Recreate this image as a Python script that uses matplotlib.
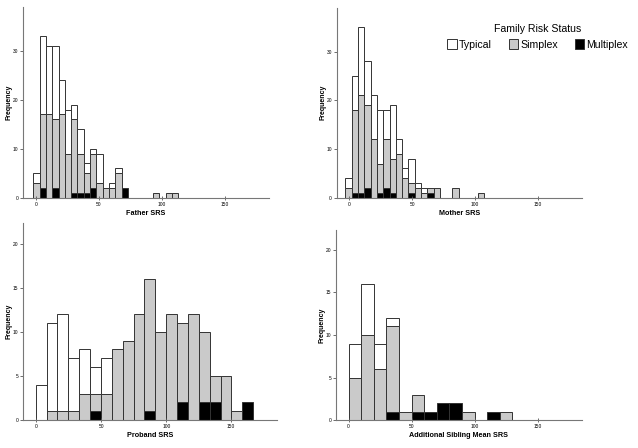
import numpy as np
import matplotlib.pyplot as plt
from matplotlib.patches import Patch

plt.rcParams['font.family'] = ['Liberation Sans', 'DejaVu Sans']

groups = ['Typical', 'Simplex', 'Multiplex']
group_colors = ['white', '#cacaca', 'black']

# Father SRS, bins of 5 starting at -2
father_start, father_width = -2, 5
father_typical = [2, 16, 14, 15, 7, 9, 3, 5, 2, 1, 6, 0, 1, 1, 0, 0, 0, 0, 0, 0, 0, 0, 0]
father_simplex = [3, 15, 17, 14, 17, 9, 15, 8, 4, 7, 3, 2, 2, 5, 0, 0, 0, 0, 0, 1, 0, 1, 1]
father_multiplex = [0, 2, 0, 2, 0, 0, 1, 1, 1, 2, 0, 0, 0, 0, 2, 0, 0, 0, 0, 0, 0, 0, 0]

# Mother SRS, bins of 5 starting at -3
mother_start, mother_width = -3, 5
mother_typical = [2, 7, 14, 9, 9, 11, 6, 11, 3, 2, 5, 1, 1, 0, 0, 0, 0, 0, 0, 0, 0, 0]
mother_simplex = [2, 17, 20, 17, 12, 6, 10, 7, 9, 4, 2, 2, 1, 1, 2, 0, 0, 2, 0, 0, 0, 1]
mother_multiplex = [0, 1, 1, 2, 0, 1, 2, 1, 0, 0, 1, 0, 0, 1, 0, 0, 0, 0, 0, 0, 0, 0]

# Proband SRS, 20 bins
proband_start, proband_width = -0.5, 8.37
proband_typical = [4, 10, 11, 6, 5, 3, 4, 0, 0, 0, 0, 0, 0, 0, 0, 0, 0, 0, 0, 0]
proband_simplex = [0, 1, 1, 1, 3, 2, 3, 8, 9, 12, 15, 10, 12, 9, 12, 8, 3, 5, 1, 0]
proband_multiplex = [0, 0, 0, 0, 0, 1, 0, 0, 0, 0, 1, 0, 0, 2, 0, 2, 2, 0, 0, 2]

# Additional sibling mean SRS, bins of 10
sibling_start, sibling_width = 0, 10
sibling_typical = [4, 6, 3, 1, 0, 0, 0, 0, 0, 0, 0, 0, 0]
sibling_simplex = [5, 10, 6, 10, 1, 2, 0, 0, 0, 1, 0, 0, 1]
sibling_multiplex = [0, 0, 0, 1, 0, 1, 1, 2, 2, 0, 0, 1, 0]

panels = [
    ('Father SRS', father_start, father_width, father_typical, father_simplex, father_multiplex,
     [0.0365, 0.5587, 0.3851, 0.4263], 39, [0, 10, 20, 30]),
    ('Mother SRS', mother_start, mother_width, mother_typical, mother_simplex, mother_multiplex,
     [0.5277, 0.5587, 0.3845, 0.4240], 39, [0, 10, 20, 30]),
    ('Proband SRS', proband_start, proband_width, proband_typical, proband_simplex, proband_multiplex,
     [0.0365, 0.0625, 0.3972, 0.4390], 22.3, [0, 5, 10, 15, 20]),
    ('Additional Sibling Mean SRS', sibling_start, sibling_width, sibling_typical, sibling_simplex,
     sibling_multiplex, [0.5266, 0.0618, 0.3851, 0.4248], 22.3, [0, 5, 10, 15, 20]),
]

fig = plt.figure(figsize=(6.38, 4.48), dpi=100)

for label, start, width, typ, simp, mult, pos, ytop, yticks in panels:
    ax = fig.add_axes(pos)
    typ = np.array(typ)
    simp = np.array(simp)
    mult = np.array(mult)
    left = start + width * np.arange(len(typ))
    segments = [(mult, np.zeros_like(mult), group_colors[2]),
                (simp, mult, group_colors[1]),
                (typ, mult + simp, group_colors[0])]
    for h, b, c in segments:
        m = h > 0
        ax.bar(left[m], h[m], bottom=b[m], width=width, align='edge',
               color=c, edgecolor='#333333', linewidth=0.7)
    ax.set_xlim(-10, 185)
    ax.set_ylim(0, ytop)
    ax.set_xticks([0, 50, 100, 150])
    ax.set_yticks(yticks)
    for s in ['top', 'right']:
        ax.spines[s].set_visible(False)
    for s in ['left', 'bottom']:
        ax.spines[s].set_color('#777777')
        ax.spines[s].set_linewidth(0.8)
    ax.tick_params(axis='x', direction='inout', length=3, width=0.6, color='#555555',
                   labelsize=3.5, pad=1.5)
    ax.tick_params(axis='y', direction='out', length=2.5, width=0.6, color='#555555',
                   labelsize=3.5, pad=1)
    ax.set_xlabel(label, fontsize=5.2, fontweight='bold', labelpad=2)
    ax.set_ylabel('Frequency', fontsize=5, fontweight='bold', labelpad=0)

handles = [Patch(facecolor=c, edgecolor='#333333', linewidth=0.7) for c in group_colors]
leg = fig.legend(handles, groups, loc='center', bbox_to_anchor=(0.843, 0.918), ncol=3,
                 frameon=False, title='Family Risk Status', title_fontsize=7.6, fontsize=7.6,
                 handlelength=0.9, handleheight=1.0, handletextpad=0.2, columnspacing=1.6)

fig.savefig('out.png', dpi=100)
plt.close(fig)
